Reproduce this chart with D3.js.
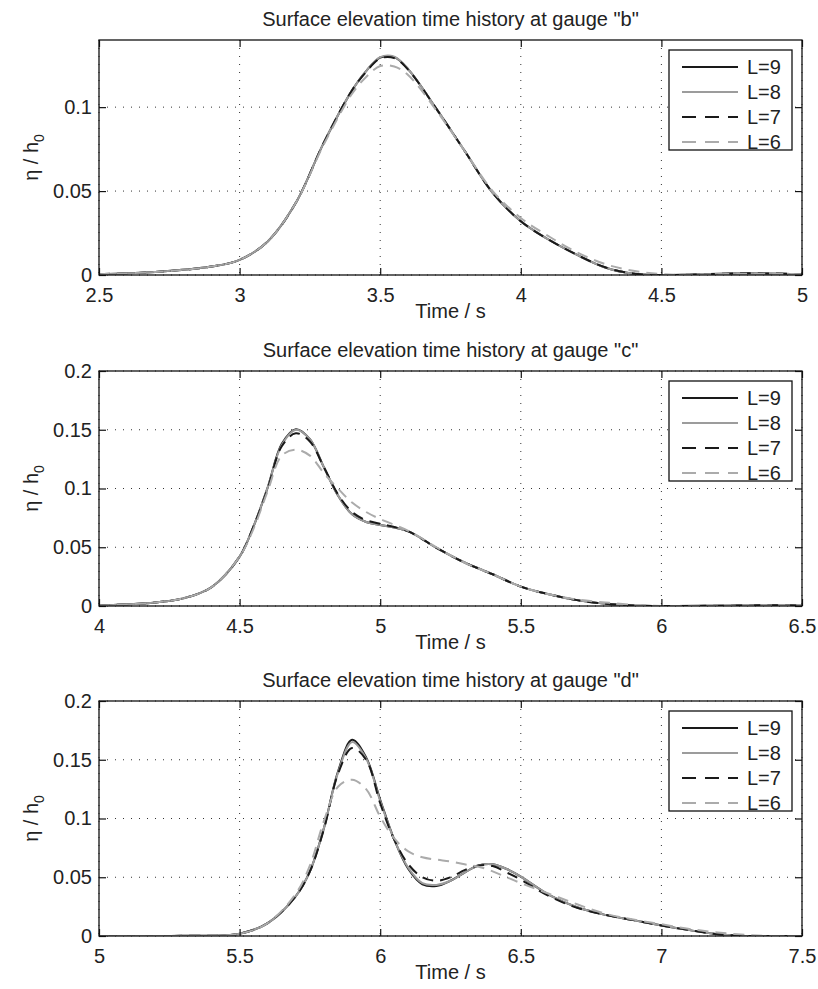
<!DOCTYPE html>
<html>
<head>
<meta charset="utf-8">
<script src="https://cdn.jsdelivr.net/npm/d3@7"></script>
<style>
  body { margin: 0; background: #fff; }
  svg { display: block; font-family: "Liberation Sans", Arial, Helvetica, sans-serif; }
</style>
</head>
<body>
<div id="chart"></div>
<script>
// levels shown in every panel
const seriesNames = ['L=9', 'L=8', 'L=7', 'L=6'];

// gauge "b"
const timeB = [2.5, 2.7, 2.9, 3.0, 3.1, 3.2, 3.3, 3.4, 3.45, 3.5, 3.55, 3.6, 3.7, 3.8, 3.9, 4.0, 4.1, 4.2, 4.3, 4.4, 4.5, 4.6, 4.8, 5.0];
const bL9 = [0.0005, 0.0018, 0.005, 0.009, 0.020, 0.043, 0.079, 0.110, 0.1215, 0.1295, 0.1298, 0.1225, 0.099, 0.074, 0.049, 0.032, 0.021, 0.012, 0.0045, 0.0008, 0.0, 0.0002, 0.001, 0.0005];
const bL8 = [0.0005, 0.0018, 0.005, 0.009, 0.020, 0.043, 0.079, 0.110, 0.1215, 0.1298, 0.1300, 0.1225, 0.099, 0.074, 0.049, 0.032, 0.021, 0.012, 0.0045, 0.0008, 0.0, 0.0002, 0.001, 0.0005];
const bL7 = [0.0005, 0.0018, 0.005, 0.009, 0.020, 0.043, 0.079, 0.110, 0.1210, 0.1290, 0.1292, 0.1222, 0.099, 0.074, 0.049, 0.032, 0.021, 0.012, 0.0046, 0.0009, 0.0, 0.0002, 0.001, 0.0005];
const bL6 = [0.0005, 0.0018, 0.005, 0.009, 0.020, 0.043, 0.078, 0.108, 0.1180, 0.1245, 0.1242, 0.1190, 0.098, 0.074, 0.050, 0.034, 0.023, 0.0135, 0.0065, 0.0025, 0.0005, 0.0002, 0.0008, 0.0005];

// gauge "c"
const timeC = [4.0, 4.2, 4.3, 4.4, 4.5, 4.55, 4.6, 4.65, 4.7, 4.75, 4.8, 4.85, 4.9, 4.95, 5.0, 5.1, 5.2, 5.3, 5.4, 5.5, 5.6, 5.7, 5.8, 5.9, 6.0, 6.2, 6.4, 6.5];
const cL9 = [0.0003, 0.003, 0.0065, 0.016, 0.042, 0.068, 0.101, 0.138, 0.1505, 0.142, 0.118, 0.094, 0.078, 0.0715, 0.069, 0.0635, 0.0495, 0.037, 0.027, 0.0165, 0.010, 0.005, 0.002, 0.0005, 0.0, 0.0002, 0.0006, 0.0004];
const cL8 = [0.0003, 0.003, 0.0065, 0.016, 0.042, 0.068, 0.101, 0.137, 0.1500, 0.142, 0.118, 0.094, 0.078, 0.0715, 0.069, 0.0635, 0.0495, 0.037, 0.027, 0.0165, 0.010, 0.005, 0.002, 0.0005, 0.0, 0.0002, 0.0006, 0.0004];
const cL7 = [0.0003, 0.003, 0.0065, 0.016, 0.042, 0.068, 0.100, 0.136, 0.1470, 0.140, 0.118, 0.095, 0.080, 0.0730, 0.070, 0.0635, 0.0495, 0.037, 0.027, 0.0165, 0.010, 0.005, 0.002, 0.0005, 0.0, 0.0002, 0.0006, 0.0004];
const cL6 = [0.0003, 0.003, 0.0065, 0.016, 0.042, 0.066, 0.098, 0.128, 0.1330, 0.128, 0.113, 0.100, 0.088, 0.0800, 0.074, 0.0640, 0.0500, 0.037, 0.027, 0.0165, 0.010, 0.0055, 0.003, 0.001, 0.0, 0.0002, 0.0005, 0.0004];

// gauge "d"
const timeD = [5.0, 5.3, 5.5, 5.6, 5.7, 5.75, 5.8, 5.85, 5.9, 5.95, 6.0, 6.05, 6.1, 6.15, 6.2, 6.25, 6.3, 6.35, 6.4, 6.45, 6.5, 6.6, 6.7, 6.8, 6.9, 7.0, 7.1, 7.2, 7.3, 7.4, 7.5];
const dL9 = [0.0, 0.0002, 0.002, 0.011, 0.034, 0.055, 0.092, 0.140, 0.167, 0.152, 0.116, 0.082, 0.057, 0.044, 0.0425, 0.047, 0.054, 0.060, 0.061, 0.057, 0.0505, 0.035, 0.0245, 0.018, 0.0135, 0.009, 0.005, 0.0015, 0.0, 0.0, 0.0];
const dL8 = [0.0, 0.0002, 0.002, 0.011, 0.034, 0.055, 0.092, 0.139, 0.165, 0.151, 0.115, 0.082, 0.058, 0.045, 0.0435, 0.047, 0.054, 0.060, 0.061, 0.057, 0.0505, 0.035, 0.0245, 0.018, 0.0135, 0.009, 0.005, 0.0015, 0.0, 0.0, 0.0];
const dL7 = [0.0, 0.0002, 0.002, 0.011, 0.034, 0.055, 0.091, 0.138, 0.160, 0.150, 0.113, 0.082, 0.061, 0.050, 0.047, 0.050, 0.056, 0.060, 0.0595, 0.054, 0.048, 0.034, 0.024, 0.018, 0.0135, 0.009, 0.005, 0.0015, 0.0, 0.0, 0.0];
const dL6 = [0.0, 0.0002, 0.002, 0.011, 0.036, 0.060, 0.098, 0.127, 0.133, 0.125, 0.1015, 0.083, 0.072, 0.067, 0.065, 0.0635, 0.061, 0.059, 0.055, 0.050, 0.045, 0.036, 0.027, 0.019, 0.014, 0.010, 0.006, 0.003, 0.001, 0.0, 0.0];

// axes settings
const panelTitles = ['Surface elevation time history at gauge "b"', 'Surface elevation time history at gauge "c"', 'Surface elevation time history at gauge "d"'];
const xDomains = [[2.5, 5], [4, 6.5], [5, 7.5]];
const yDomains = [[0, 0.14], [0, 0.2], [0, 0.2]];
const xTickValues = [[2.5, 3, 3.5, 4, 4.5, 5], [4, 4.5, 5, 5.5, 6, 6.5], [5, 5.5, 6, 6.5, 7, 7.5]];
const yTickValues = [[0, 0.05, 0.1], [0, 0.05, 0.1, 0.15, 0.2], [0, 0.05, 0.1, 0.15, 0.2]];

const panels = [
  { time: timeB, values: [bL9, bL8, bL7, bL6] },
  { time: timeC, values: [cL9, cL8, cL7, cL6] },
  { time: timeD, values: [dL9, dL8, dL7, dL6] }
];

const styles = [
  { color: '#1a1a1a', dash: null },
  { color: '#9c9c9c', dash: null },
  { color: '#1a1a1a', dash: '11,7' },
  { color: '#ababab', dash: '11,7' }
];

const width = 818, height = 989;
const left = 99, right = 802, plotH = 235;
const tops = [40, 371, 701];
const fontSize = 20;

const svg = d3.select('#chart').append('svg')
  .attr('width', width)
  .attr('height', height);

const fmt = d => String(d);

panels.forEach((p, i) => {
  const top = tops[i];
  const x = d3.scaleLinear().domain(xDomains[i]).range([left, right]);
  const y = d3.scaleLinear().domain(yDomains[i]).range([top + plotH, top]);
  const g = svg.append('g');

  // dotted grid
  g.append('g').selectAll('line').data(xTickValues[i]).join('line')
    .attr('x1', d => x(d)).attr('x2', d => x(d))
    .attr('y1', top).attr('y2', top + plotH)
    .attr('stroke', '#333').attr('stroke-width', 1).attr('stroke-dasharray', '1,7');
  g.append('g').selectAll('line').data(yTickValues[i]).join('line')
    .attr('x1', left).attr('x2', right)
    .attr('y1', d => y(d)).attr('y2', d => y(d))
    .attr('stroke', '#333').attr('stroke-width', 1).attr('stroke-dasharray', '1,7');

  // curves
  const line = d3.line()
    .x(d => x(d[0]))
    .y(d => y(d[1]))
    .curve(d3.curveCatmullRom.alpha(0.5));
  const clipId = 'clip' + i;
  svg.append('clipPath').attr('id', clipId)
    .append('rect').attr('x', left).attr('y', top - 2).attr('width', right - left).attr('height', plotH + 2);
  const curves = g.append('g').attr('clip-path', `url(#${clipId})`);
  p.values.forEach((vals, k) => {
    curves.append('path')
      .datum(p.time.map((t, j) => [t, vals[j]]))
      .attr('d', line)
      .attr('fill', 'none')
      .attr('stroke', styles[k].color)
      .attr('stroke-width', 2)
      .attr('stroke-dasharray', styles[k].dash);
  });

  // axes (MATLAB box with inward ticks)
  const tickLen = 7;
  g.append('g').attr('transform', `translate(0,${top + plotH})`)
    .call(d3.axisBottom(x).tickValues(xTickValues[i]).tickFormat(fmt).tickSizeInner(-tickLen).tickSizeOuter(0).tickPadding(13))
    .call(a => a.select('.domain').remove());
  g.append('g').attr('transform', `translate(0,${top})`)
    .call(d3.axisTop(x).tickValues(xTickValues[i]).tickFormat('').tickSizeInner(-tickLen).tickSizeOuter(0))
    .call(a => a.select('.domain').remove());
  g.append('g').attr('transform', `translate(${left},0)`)
    .call(d3.axisLeft(y).tickValues(yTickValues[i]).tickFormat(fmt).tickSizeInner(-tickLen).tickSizeOuter(0).tickPadding(7))
    .call(a => a.select('.domain').remove());
  g.append('g').attr('transform', `translate(${right},0)`)
    .call(d3.axisRight(y).tickValues(yTickValues[i]).tickFormat('').tickSizeInner(-tickLen).tickSizeOuter(0))
    .call(a => a.select('.domain').remove());
  g.selectAll('.tick line').attr('stroke', '#111').attr('stroke-width', 1.2);
  g.selectAll('.tick text').attr('fill', '#222').style('font-size', fontSize + 'px').style('font-family', 'inherit');

  g.append('rect')
    .attr('x', left).attr('y', top).attr('width', right - left).attr('height', plotH)
    .attr('fill', 'none').attr('stroke', '#111').attr('stroke-width', 1.3);

  // title and labels
  g.append('text')
    .attr('x', (left + right) / 2).attr('y', top - 14)
    .attr('text-anchor', 'middle').attr('fill', '#222').style('font-size', fontSize + 'px')
    .text(panelTitles[i]);
  g.append('text')
    .attr('x', (left + right) / 2).attr('y', top + plotH + 43)
    .attr('text-anchor', 'middle').attr('fill', '#222').style('font-size', fontSize + 'px')
    .text('Time / s');
  const yl = g.append('text')
    .attr('transform', `translate(38,${top + plotH / 2}) rotate(-90)`)
    .attr('text-anchor', 'middle').attr('fill', '#222').style('font-size', fontSize + 'px');
  yl.append('tspan').text('η / h');
  yl.append('tspan').attr('dy', 6).style('font-size', '14px').text('0');

  // legend
  const lgW = 123, lgH = 100;
  const lg = g.append('g').attr('transform', `translate(${right - 10 - lgW},${top + 10})`);
  lg.append('rect').attr('width', lgW).attr('height', lgH)
    .attr('fill', '#fff').attr('stroke', '#111').attr('stroke-width', 1.3);
  seriesNames.forEach((name, k) => {
    const yy = 17 + k * 25;
    lg.append('line')
      .attr('x1', 13).attr('x2', 69).attr('y1', yy).attr('y2', yy)
      .attr('stroke', styles[k].color).attr('stroke-width', 2)
      .attr('stroke-dasharray', styles[k].dash ? '14,9' : null);
    lg.append('text')
      .attr('x', 78).attr('y', yy + 7)
      .attr('fill', '#222').style('font-size', fontSize + 'px')
      .text(name);
  });
});
</script>
</body>
</html>
